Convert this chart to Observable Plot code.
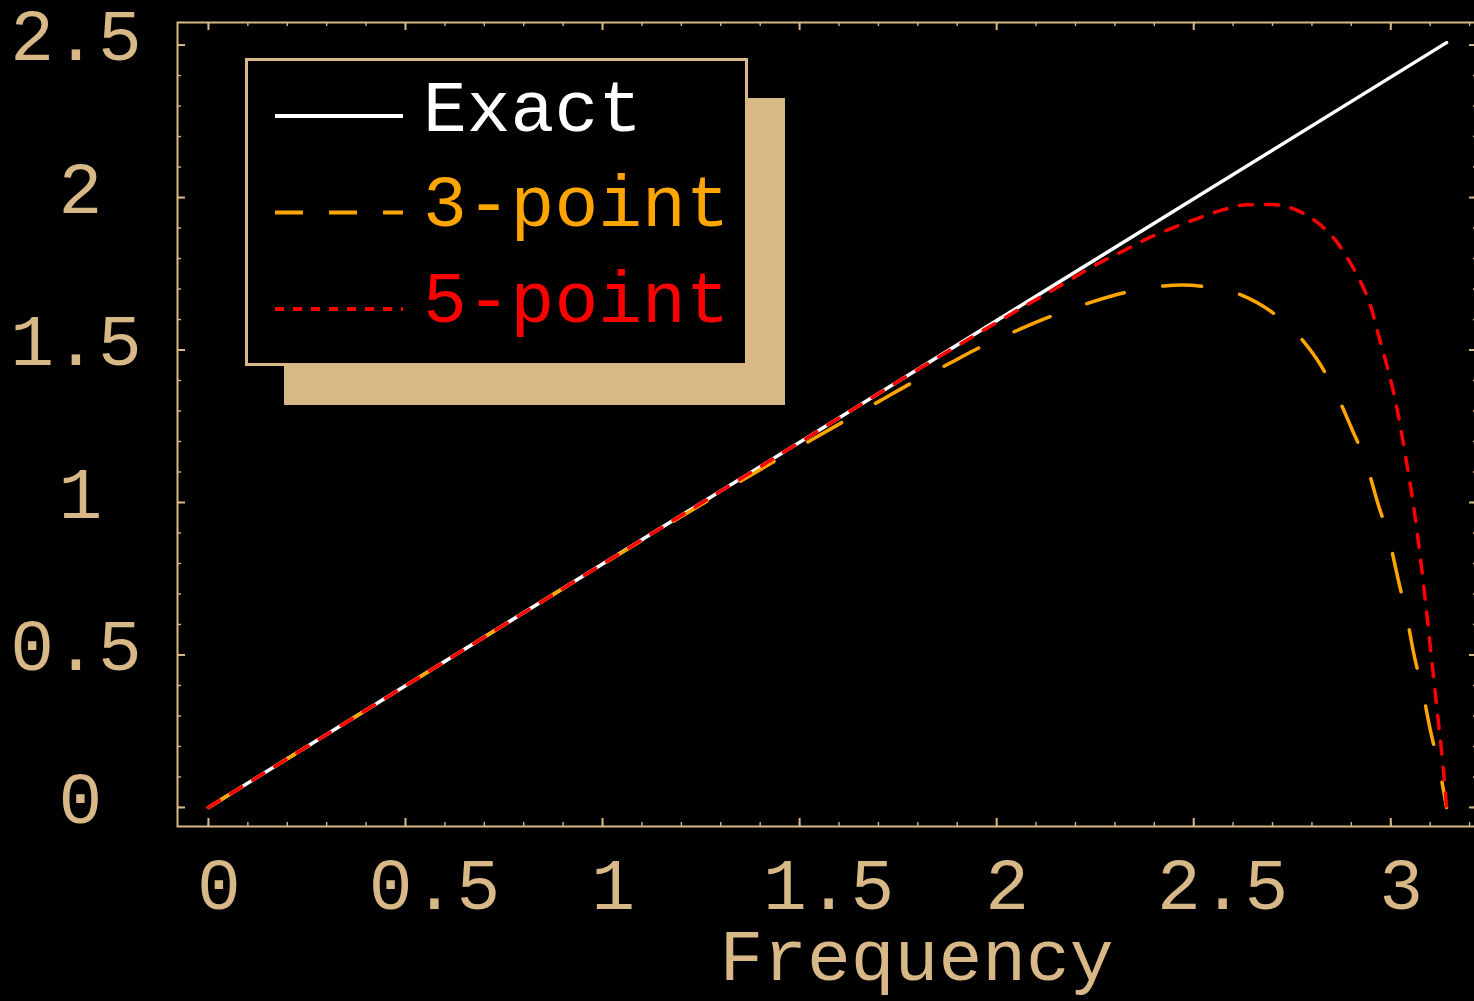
<!DOCTYPE html>
<html>
<head>
<meta charset="utf-8">
<script src="https://cdn.jsdelivr.net/npm/d3@7"></script>
<script src="https://cdn.jsdelivr.net/npm/@observablehq/plot@0.6"></script>
<style>
html, body { margin: 0; padding: 0; background: #000; overflow: hidden; }
#chart svg { display: block; }
</style>
</head>
<body>
<div id="chart"></div>
<script>
// ---- data ----
const seriesNames = ["Exact", "3-point", "5-point"];
const seriesColors = ["#ffffff", "#ffa500", "#ff0000"];

const exactX = [0, 3.1416];
const exactY = [0, 2.508];

const threeX = [0, 0.5, 1.0, 1.2, 1.35, 1.5, 1.6, 1.705, 1.78, 1.87, 1.955, 2.048, 2.137, 2.231, 2.325, 2.424, 2.472, 2.521, 2.62, 2.704, 2.778, 2.82, 2.861, 2.901, 2.939, 2.967, 2.996, 3.018, 3.04, 3.059, 3.081, 3.101, 3.123, 3.1416];
const threeY = [0, 0.399, 0.797, 0.954, 1.070, 1.183, 1.257, 1.334, 1.389, 1.449, 1.507, 1.562, 1.610, 1.653, 1.688, 1.710, 1.713, 1.709, 1.681, 1.619, 1.529, 1.455, 1.358, 1.242, 1.123, 0.998, 0.879, 0.752, 0.629, 0.501, 0.380, 0.250, 0.130, 0];

const fiveX = [0, 0.5, 1.0, 1.5, 1.8, 1.924, 2.038, 2.152, 2.264, 2.323, 2.382, 2.446, 2.509, 2.568, 2.633, 2.699, 2.764, 2.818, 2.864, 2.894, 2.926, 2.95, 2.968, 2.987, 3.006, 3.02, 3.038, 3.059, 3.076, 3.091, 3.105, 3.119, 3.133, 3.1416];
const fiveY = [0, 0.399, 0.798, 1.197, 1.436, 1.532, 1.619, 1.704, 1.788, 1.826, 1.865, 1.900, 1.931, 1.957, 1.976, 1.977, 1.957, 1.914, 1.853, 1.793, 1.717, 1.640, 1.553, 1.465, 1.367, 1.280, 1.148, 0.979, 0.810, 0.640, 0.471, 0.302, 0.132, 0];

const xTickValues = [0, 0.5, 1, 1.5, 2, 2.5, 3];
const xTickLabels = ["0", "0.5", "1", "1.5", "2", "2.5", "3"];
const yTickValues = [0, 0.5, 1, 1.5, 2, 2.5];
const yTickLabels = ["0", "0.5", "1", "1.5", "2", "2.5"];
const xTitle = "Frequency";

// ---- styling / layout ----
const tan = "#d8b887";
const font = "'Liberation Mono', 'Courier New', monospace";
const fs = 73;
const W = 1474, H = 1001, mL = 177, mT = 22, mB = 175, mR = -3;
const fw = W - mL - mR;
const fh = H - mT - mB;

const toRows = (xs, ys) => xs.map((x, i) => ({x, y: ys[i]}));
const series = [toRows(exactX, exactY), toRows(threeX, threeY), toRows(fiveX, fiveY)];
const plotDash = [null, "39,39", "13,13"];

const xMinor = d3.range(0, 3.2001, 0.1);
const yMinor = d3.range(0, 2.5001, 0.1);

const xi1 = xTickValues.map((v, i) => i).filter(i => xTickLabels[i].length === 1);
const xi3 = xTickValues.map((v, i) => i).filter(i => xTickLabels[i].length > 1);
const yi1 = yTickValues.map((v, i) => i).filter(i => yTickLabels[i].length === 1);
const yi3 = yTickValues.map((v, i) => i).filter(i => yTickLabels[i].length > 1);

const textCommon = {fill: tan, fontSize: fs, fontFamily: font};

const chart = Plot.plot({
  width: W, height: H,
  marginLeft: mL, marginRight: mR, marginTop: mT, marginBottom: mB,
  x: {domain: [-0.0785, 3.2201], axis: null},
  y: {domain: [-0.0625, 2.574], axis: null},
  style: {background: "#000", color: tan, fontFamily: font, overflow: "hidden"},
  marks: [
    // inward ticks on all four sides
    Plot.tickX(xMinor, {x: d => d, stroke: tan, strokeWidth: 1.4, insetTop: fh - 4}),
    Plot.tickX(xTickValues, {x: d => d, stroke: tan, strokeWidth: 2, insetTop: fh - 8}),
    Plot.tickX(xMinor, {x: d => d, stroke: tan, strokeWidth: 1.4, insetBottom: fh - 4}),
    Plot.tickX(xTickValues, {x: d => d, stroke: tan, strokeWidth: 2, insetBottom: fh - 8}),
    Plot.tickY(yMinor, {y: d => d, stroke: tan, strokeWidth: 1.4, insetRight: fw - 4}),
    Plot.tickY(yTickValues, {y: d => d, stroke: tan, strokeWidth: 2, insetRight: fw - 8}),
    Plot.tickY(yMinor, {y: d => d, stroke: tan, strokeWidth: 1.4, insetLeft: fw - 4}),
    Plot.tickY(yTickValues, {y: d => d, stroke: tan, strokeWidth: 2, insetLeft: fw - 8}),
    Plot.frame({stroke: tan, strokeWidth: 2}),
    // curves
    ...series.map((rows, k) => Plot.line(rows, {
      x: "x", y: "y", stroke: seriesColors[k], strokeWidth: 3.5,
      strokeDasharray: plotDash[k], curve: "monotone-x"
    })),
    // tick labels
    Plot.text(xi1, {x: i => xTickValues[i], text: i => xTickLabels[i], frameAnchor: "bottom", dx: 10.5, dy: 82.6, ...textCommon}),
    Plot.text(xi3, {x: i => xTickValues[i], text: i => xTickLabels[i], frameAnchor: "bottom", dx: 29, dy: 82.6, ...textCommon}),
    Plot.text(yi1, {y: i => yTickValues[i], text: i => yTickLabels[i], frameAnchor: "left", textAnchor: "middle", dx: -97, dy: -8, ...textCommon}),
    Plot.text(yi3, {y: i => yTickValues[i], text: i => yTickLabels[i], frameAnchor: "left", textAnchor: "middle", dx: -101.5, dy: -8, ...textCommon}),
    // axis title
    Plot.text([xTitle], {text: d => d, frameAnchor: "bottom", dx: 89, dy: 153, ...textCommon})
  ]
});

document.getElementById("chart").appendChild(chart);

// ---- legend (drawn into the same SVG) ----
const legendDash = [null, "28,26", "9,9"];
const svg = d3.select(chart);
const lg = svg.append("g").attr("class", "legend").attr("text-anchor", "start");
lg.append("rect").attr("x", 284).attr("y", 98).attr("width", 501).attr("height", 307).attr("fill", tan);
lg.append("rect").attr("x", 246.5).attr("y", 59.5).attr("width", 500).attr("height", 305)
  .attr("fill", "#000").attr("stroke", tan).attr("stroke-width", 3);
seriesNames.forEach((name, k) => {
  const ly = 116 + k * 96.5;
  lg.append("line").attr("x1", 275).attr("x2", 403).attr("y1", ly).attr("y2", ly)
    .attr("stroke", seriesColors[k]).attr("stroke-width", 4)
    .attr("stroke-dasharray", legendDash[k]);
  lg.append("text").attr("x", 423).attr("y", 130.7 + k * 95.5)
    .attr("text-anchor", "start")
    .attr("fill", seriesColors[k]).attr("font-family", font).attr("font-size", fs)
    .text(name);
});
</script>
</body>
</html>
